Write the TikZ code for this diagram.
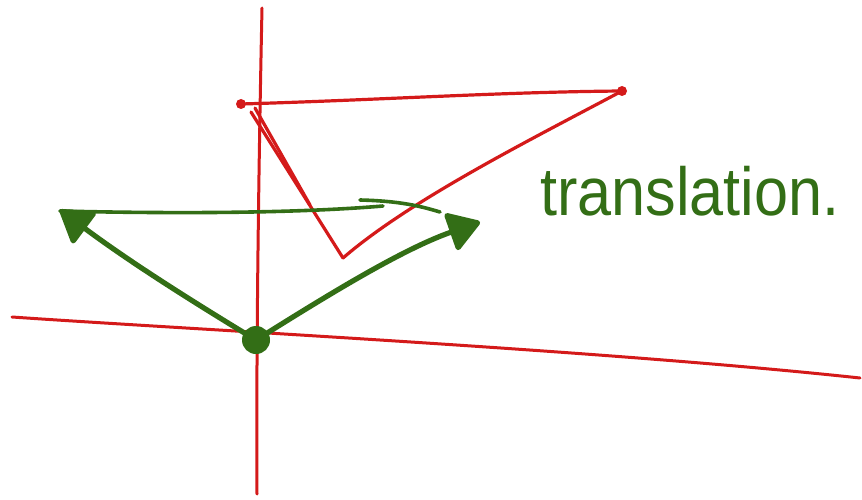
\documentclass[tikz,border=0pt]{standalone}
\usepackage{fontspec}
\setmainfont{Liberation Sans}
\usetikzlibrary{arrows.meta}
\definecolor{pen}{HTML}{D41A1A}
\definecolor{ink}{HTML}{336E16}
\tikzset{
  axis/.style={draw=pen, line width=3pt, line cap=round},
  redline/.style={draw=pen, line width=3.2pt, line cap=round, line join=round},
  greenline/.style={draw=ink, line width=5.2pt, line cap=round},
  vec/.style={greenline, -{Triangle[length=34pt, width=42pt, round]}},
}
\begin{document}
\begin{tikzpicture}[x=1pt, y=-1pt]
\useasboundingbox (0,0) rectangle (862,500);
% axes
\coordinate (vt) at (262,8);
\coordinate (vb) at (257,494);
\coordinate (hl) at (12,317);
\coordinate (hr) at (860,378);
\draw[axis] (vt) .. controls (259,150) and (256,350) .. (vb);
\draw[axis] (hl) .. controls (200,330) and (600,350) .. (hr);
% red triangle
\coordinate (ta) at (241,104);
\coordinate (tb) at (622,91);
\coordinate (tc) at (343,258);
\coordinate (td) at (251,112);
\draw[redline] (ta) .. controls (380,100) and (500,92) .. (tb);
\draw[redline] (tb) .. controls (530,140) and (410,200) .. (tc);
\draw[redline] (td) -- (tc);
\draw[redline] (255,108) -- (310,205);
\fill[pen] (ta) circle (5);
\fill[pen] (tb) circle (5);
% green vectors
\coordinate (o) at (256,340);
\coordinate (la) at (60,210);
\coordinate (ra) at (480,222);
\draw[vec] (o) .. controls (190,300) and (130,262) .. (la);
\draw[vec] (o) .. controls (320,300) and (400,250) .. (ra);
\fill[ink] (o) circle (14);
% joining line
\coordinate (ja) at (60,211);
\coordinate (jb) at (383,206);
\coordinate (jc) at (360,200);
\coordinate (jd) at (440,212);
\draw[greenline, line width=3.6pt] (ja) .. controls (180,214) and (300,213) .. (jb);
\draw[greenline, line width=3.6pt] (jc) .. controls (400,201) and (420,206) .. (jd);
% label
\node[anchor=base west, text=ink, font=\fontsize{68}{70}\selectfont, inner sep=0pt, xscale=0.9] (lab) at (540,215) {translation.};
\end{tikzpicture}
\end{document}
